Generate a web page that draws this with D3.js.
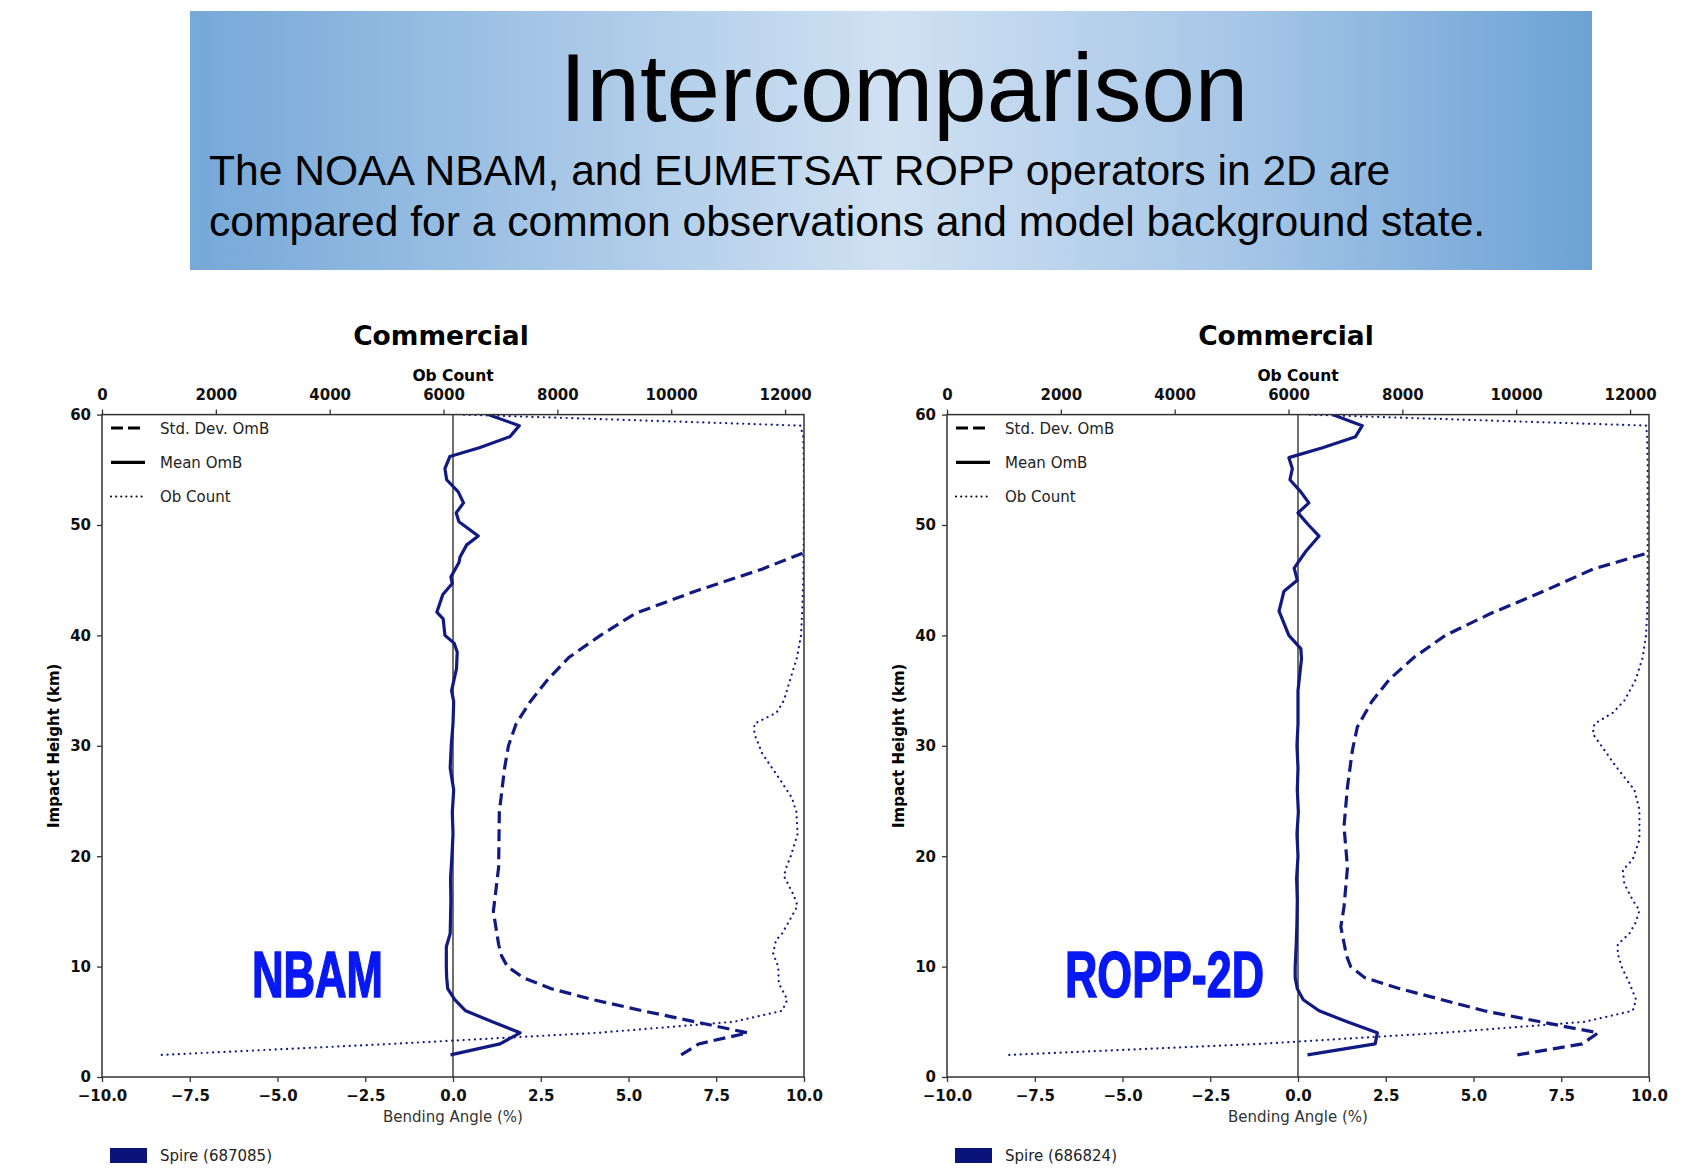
<!DOCTYPE html>
<html>
<head>
<meta charset="utf-8">
<script src="https://cdn.jsdelivr.net/npm/d3@7"></script>
<style>
  body { margin: 0; background: #fff; }
  svg { display: block; }
  text { font-family: "DejaVu Sans", sans-serif; }
</style>
</head>
<body>
<script>
// Tick values
var bendTicks = [-10, -7.5, -5, -2.5, 0, 2.5, 5, 7.5, 10];
var heightTicks = [0, 10, 20, 30, 40, 50, 60];
var countTicks = [0, 2000, 4000, 6000, 8000, 10000, 12000];
var legendLabels = ["Std. Dev. OmB", "Mean OmB", "Ob Count"];

// NBAM panel
var nbamMeanH = [2, 3, 4, 5, 6, 7, 8, 9, 10, 11.8, 13, 16, 18, 20, 22, 24, 26, 28, 30, 32, 34, 35, 37, 38.5, 39.3, 40, 41.5, 42.1, 43.7, 44.7, 45.3, 46.6, 47.1, 48.2, 49, 50.3, 51.1, 52, 53, 54.1, 55.1, 56.2, 57, 58, 59, 60];
var nbamMean = [-0.07, 1.34, 1.91, 1.12, 0.36, 0.05, -0.15, -0.18, -0.19, -0.19, -0.08, -0.06, -0.07, -0.03, 0.0, -0.02, 0.02, -0.08, -0.05, 0.0, 0.02, -0.04, 0.1, 0.12, 0.03, -0.23, -0.28, -0.46, -0.29, -0.02, -0.06, 0.17, 0.2, 0.39, 0.72, 0.17, 0.09, 0.3, 0.15, -0.18, -0.23, -0.09, 0.75, 1.62, 1.89, 1.0];
var nbamStdH = [2, 3, 4, 5, 6, 7, 8, 9, 10, 11, 12, 15, 19, 24, 28, 30, 32, 34, 36, 38, 40, 42, 44, 46, 47.5];
var nbamStd = [6.5, 7.0, 8.4, 6.9, 5.4, 4.0, 2.8, 2.0, 1.55, 1.38, 1.3, 1.15, 1.3, 1.32, 1.47, 1.58, 1.8, 2.2, 2.7, 3.3, 4.2, 5.2, 6.9, 8.8, 10.0];
var nbamCountH = [2, 3, 4, 5, 6, 7, 8.5, 10, 11.2, 12.4, 13, 14.2, 15.5, 16.5, 17.5, 18.2, 19.1, 20, 22, 24, 25.3, 27.1, 29.3, 31.1, 32, 33, 34.1, 36, 38, 40, 42, 45, 50, 55, 58, 59, 60];
var nbamCount = [1050, 5100, 8700, 11100, 11950, 12040, 11890, 11880, 11790, 11840, 11950, 12080, 12220, 12150, 12050, 11980, 12030, 12100, 12220, 12200, 12120, 11890, 11600, 11460, 11460, 11850, 11980, 12090, 12210, 12280, 12300, 12320, 12330, 12330, 12320, 12270, 6350];

// ROPP-2D panel
var roppMeanH = [2, 3, 4, 5, 6, 7, 8, 9, 10, 12, 14, 16, 18, 20, 22, 24, 26, 28, 30, 32, 34, 35, 37.9, 38.8, 40, 42.2, 44, 45, 46.1, 47.6, 49, 50, 51.1, 52, 53, 54.1, 55.1, 56.1, 57, 58, 59, 60];
var roppMean = [0.27, 2.2, 2.26, 1.4, 0.6, 0.15, -0.02, -0.08, -0.08, -0.05, -0.03, -0.02, -0.04, 0.0, -0.03, 0.01, -0.02, 0.0, -0.03, 0.0, 0.0, 0.0, 0.1, 0.08, -0.26, -0.54, -0.4, -0.02, -0.11, 0.22, 0.6, 0.3, 0.0, 0.31, 0.08, -0.23, -0.16, -0.26, 0.7, 1.64, 1.83, 0.98];
var roppStdH = [2, 3, 4, 5, 6, 7, 8, 9, 10, 11, 12, 13.6, 15.4, 19, 22.7, 26.3, 29.6, 31.7, 34, 36, 38, 40, 42, 44, 46, 47.5];
var roppStd = [6.25, 8.1, 8.55, 6.9, 5.3, 4.1, 2.9, 1.9, 1.5, 1.38, 1.32, 1.22, 1.31, 1.41, 1.31, 1.41, 1.55, 1.69, 2.1, 2.6, 3.3, 4.2, 5.5, 7.0, 8.4, 10.0];
var roppCountH = [2, 3, 4, 5, 6, 7, 8.5, 10, 11.2, 12, 13, 14, 15.1, 16, 17.5, 18.75, 19.7, 21.5, 24.2, 26, 28.1, 31.1, 32, 33, 34.1, 36, 38, 40, 42, 45, 50, 55, 58, 59, 60];
var roppCount = [1094, 5500, 8700, 11200, 12047, 12107, 11989, 11850, 11784, 11784, 11989, 12100, 12165, 12050, 11900, 11872, 12047, 12165, 12165, 12077, 11756, 11345, 11375, 11700, 11901, 12100, 12222, 12280, 12300, 12310, 12310, 12310, 12300, 12283, 6314];

var svgWidth = 1684;
var svgHeight = 1170;
var navy = "#101a80";

var svg = d3.select("body")
  .append("svg")
  .attr("width", svgWidth)
  .attr("height", svgHeight);

var defs = svg.append("defs");

// Banner: light in the middle, darker towards the left/right sides
var grad = defs.append("linearGradient")
  .attr("id", "bannerGrad")
  .attr("x1", "0").attr("x2", "1").attr("y1", "0").attr("y2", "0");
grad.append("stop").attr("offset", "0%").attr("stop-color", "#76a8d8");
grad.append("stop").attr("offset", "25%").attr("stop-color", "#a4c5e6");
grad.append("stop").attr("offset", "50%").attr("stop-color", "#d0e1f2");
grad.append("stop").attr("offset", "75%").attr("stop-color", "#a6c6e7");
grad.append("stop").attr("offset", "100%").attr("stop-color", "#6ca2d5");

svg.append("rect")
  .attr("x", 190).attr("y", 11)
  .attr("width", 1402).attr("height", 259)
  .attr("fill", "url(#bannerGrad)");

svg.append("text")
  .attr("x", 904).attr("y", 121)
  .attr("text-anchor", "middle")
  .style("font-family", "'Liberation Sans', Arial, sans-serif")
  .style("font-size", "96px")
  .attr("fill", "#000")
  .text("Intercomparison");

var subLines = ["The NOAA NBAM, and EUMETSAT ROPP operators in 2D are",
  "compared for a common observations and model background state."];
svg.selectAll(".sub")
  .data(subLines)
  .enter()
  .append("text")
  .attr("class", "sub")
  .attr("x", 209)
  .attr("y", (d, i) => 185 + i * 51)
  .style("font-family", "'Liberation Sans', Arial, sans-serif")
  .style("font-size", "42.6px")
  .attr("fill", "#000")
  .text(d => d);

// one chart panel
function drawPanel(id, dx, tag, tagX, tagWidth, spire, meanH, mean, stdH, std, countH, count) {
  var g = svg.append("g").attr("transform", `translate(${dx},0)`);

  var left = 102, right = 804, top = 414.6, bottom = 1077;

  var x = d3.scaleLinear().domain([-10, 10]).range([left, right]);
  var y = d3.scaleLinear().domain([0, 60]).range([bottom, top]);
  var xc = d3.scaleLinear().domain([0, 12333]).range([left, right]);

  // clip rect lives in the panel's own coordinates
  defs.append("clipPath").attr("id", "clip" + id)
    .append("rect")
    .attr("x", left).attr("y", top)
    .attr("width", right - left).attr("height", bottom - top);

  // titles
  g.append("text")
    .attr("x", 441).attr("y", 345)
    .attr("text-anchor", "middle")
    .style("font-size", "26.5px").style("font-weight", "bold")
    .text("Commercial");

  g.append("text")
    .attr("x", x(0)).attr("y", 381)
    .attr("text-anchor", "middle")
    .style("font-size", "15.5px").style("font-weight", "bold")
    .text("Ob Count");

  g.append("text")
    .attr("x", x(0)).attr("y", 1122)
    .attr("text-anchor", "middle")
    .style("font-size", "15px")
    .attr("fill", "#333")
    .text("Bending Angle (%)");

  g.append("text")
    .attr("transform", `translate(59, ${(top + bottom) / 2}) rotate(-90)`)
    .attr("text-anchor", "middle")
    .style("font-size", "15px").style("font-weight", "bold")
    .text("Impact Height (km)");

  // axes
  var bottomAxis = d3.axisBottom(x).tickValues(bendTicks)
    .tickFormat(d3.format(".1f")).tickSize(5).tickPadding(8).tickSizeOuter(0);
  var leftAxis = d3.axisLeft(y).tickValues(heightTicks)
    .tickSize(5).tickPadding(6).tickSizeOuter(0);
  var topAxis = d3.axisTop(xc).tickValues(countTicks)
    .tickFormat(d3.format("d")).tickSize(5).tickPadding(10).tickSizeOuter(0);

  [[bottomAxis, `translate(0,${bottom})`], [leftAxis, `translate(${left},0)`], [topAxis, `translate(0,${top})`]]
    .forEach(function(a) {
      var ax = g.append("g").attr("transform", a[1]).call(a[0]);
      ax.select(".domain").remove();
      ax.selectAll("line").attr("stroke", "#333").attr("stroke-width", 1.3);
      ax.selectAll("text")
        .attr("fill", "#111")
        .style("font-family", "'DejaVu Sans', sans-serif")
        .style("font-size", "15px").style("font-weight", "bold");
    });

  // zero line
  g.append("line")
    .attr("x1", x(0)).attr("x2", x(0))
    .attr("y1", top).attr("y2", bottom)
    .attr("stroke", "#333").attr("stroke-width", 1.4);

  var plot = g.append("g").attr("clip-path", `url(#clip${id})`);

  var line = d3.line().x(d => d[0]).y(d => d[1]);

  var countPts = countH.map((h, i) => [xc(count[i]), y(h)]);
  var stdPts = stdH.map((h, i) => [x(std[i]), y(h)]);
  var meanPts = meanH.map((h, i) => [x(mean[i]), y(h)]);

  plot.append("path")
    .attr("d", line(countPts))
    .attr("fill", "none").attr("stroke", navy)
    .attr("stroke-width", 2.2)
    .attr("stroke-linecap", "round")
    .attr("stroke-dasharray", "0.1,5.6");

  plot.append("path")
    .attr("d", line(stdPts))
    .attr("fill", "none").attr("stroke", navy)
    .attr("stroke-width", 3.2)
    .attr("stroke-dasharray", "12,6");

  plot.append("path")
    .attr("d", line(meanPts))
    .attr("fill", "none").attr("stroke", navy)
    .attr("stroke-width", 3.2)
    .attr("stroke-linejoin", "round");

  // frame
  g.append("rect")
    .attr("x", left).attr("y", top)
    .attr("width", right - left).attr("height", bottom - top)
    .attr("fill", "none").attr("stroke", "#333").attr("stroke-width", 1.5);

  // legend
  var styles = [
    {dash: "12,5", w: 3.2, cap: "butt"},
    {dash: null, w: 3.2, cap: "butt"},
    {dash: "0.1,5", w: 2, cap: "round"}
  ];
  var leg = g.selectAll(".leg" + id)
    .data(legendLabels)
    .enter()
    .append("g")
    .attr("class", "leg" + id)
    .attr("transform", (d, i) => `translate(0, ${428 + i * 34.3})`);
  leg.append("line")
    .attr("x1", 111).attr("x2", 145)
    .attr("stroke", "#000")
    .attr("stroke-width", (d, i) => styles[i].w)
    .attr("stroke-linecap", (d, i) => styles[i].cap)
    .attr("stroke-dasharray", (d, i) => styles[i].dash);
  leg.append("text")
    .attr("x", 160).attr("y", 5.5)
    .style("font-size", "15px")
    .attr("fill", "#222")
    .text(d => d);

  // big operator tag
  g.append("text")
    .attr("x", tagX)
    .attr("y", 997)
    .attr("textLength", tagWidth)
    .attr("lengthAdjust", "spacingAndGlyphs")
    .style("font-family", "'Liberation Sans', Arial, sans-serif")
    .style("font-size", "64px").style("font-weight", "bold")
    .attr("fill", "#0818f2")
    .attr("stroke", "#0818f2").attr("stroke-width", 1.6)
    .text(tag);

  // spire legend
  g.append("rect")
    .attr("x", 110).attr("y", 1148)
    .attr("width", 37).attr("height", 15)
    .attr("fill", "#0a1478");
  g.append("text")
    .attr("x", 160).attr("y", 1161)
    .style("font-size", "15px")
    .attr("fill", "#222")
    .text(spire);
}

drawPanel("a", 0, "NBAM", 252, 131, "Spire (687085)", nbamMeanH, nbamMean, nbamStdH, nbamStd, nbamCountH, nbamCount);
drawPanel("b", 845, "ROPP-2D", 220, 199, "Spire (686824)", roppMeanH, roppMean, roppStdH, roppStd, roppCountH, roppCount);
</script>
</body>
</html>
